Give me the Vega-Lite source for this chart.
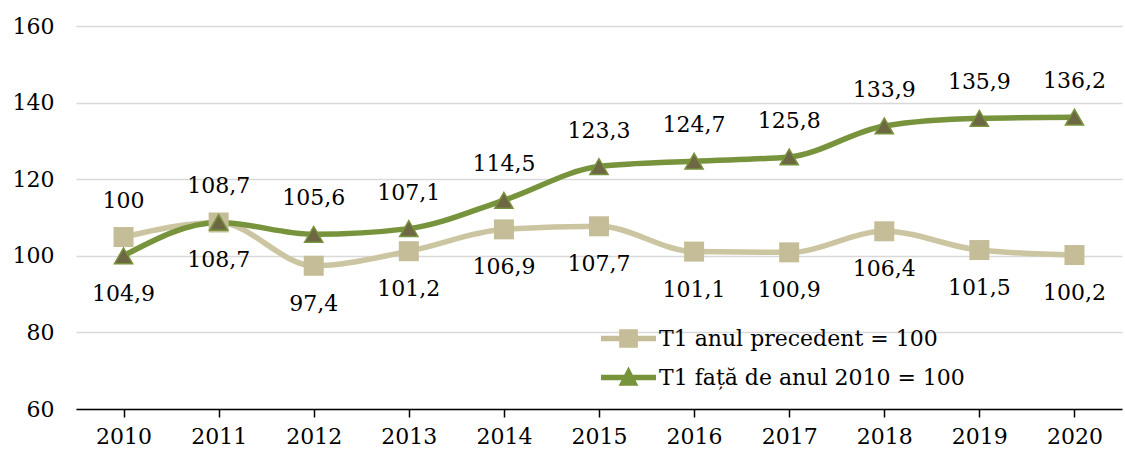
{
  "$schema": "https://vega.github.io/schema/vega-lite/v6.json",
  "width": 1046,
  "height": 383,
  "autosize": {"type": "none"},
  "padding": {"left": 76, "top": 26, "right": 3, "bottom": 46},
  "background": "white",
  "config": {
    "view": {"stroke": null},
    "font": "DejaVu Serif",
    "locale": {"number": {"decimal": ",", "thousands": ".", "grouping": [3], "currency": ["", " lei"]}},
    "axis": {"labelFont": "DejaVu Serif", "labelFontSize": 22, "labelColor": "#000000", "title": null}
  },
  "data": {
    "values": [
      {"year": "2010", "a": 104.9, "b": 100.0},
      {"year": "2011", "a": 108.7, "b": 108.7},
      {"year": "2012", "a": 97.4, "b": 105.6},
      {"year": "2013", "a": 101.2, "b": 107.1},
      {"year": "2014", "a": 106.9, "b": 114.5},
      {"year": "2015", "a": 107.7, "b": 123.3},
      {"year": "2016", "a": 101.1, "b": 124.7},
      {"year": "2017", "a": 100.9, "b": 125.8},
      {"year": "2018", "a": 106.4, "b": 133.9},
      {"year": "2019", "a": 101.5, "b": 135.9},
      {"year": "2020", "a": 100.2, "b": 136.2}
    ]
  },
  "transform": [
    {"calculate": "max(datum.a, datum.b)", "as": "hi"},
    {"calculate": "min(datum.a, datum.b)", "as": "lo"}
  ],
  "encoding": {
    "x": {
      "field": "year", "type": "ordinal",
      "scale": {"paddingInner": 0, "paddingOuter": 0},
      "axis": {
        "labelAngle": 0, "domainColor": "#000000", "domainWidth": 1.5,
        "tickColor": "#000000", "tickWidth": 1.5, "tickSize": 8, "bandPosition": 0,
        "labelPadding": 9, "grid": false
      }
    }
  },
  "layer": [
    {
      "transform": [{"fold": ["a", "b"], "as": ["series", "value"]}],
      "mark": {"type": "line", "interpolate": "monotone", "strokeWidth": 5.5, "strokeCap": "round"},
      "encoding": {
        "y": {
          "field": "value", "type": "quantitative",
          "scale": {"domain": [60, 160], "nice": false, "zero": false},
          "axis": {
            "values": [60, 80, 100, 120, 140, 160], "domain": false, "ticks": false,
            "gridColor": "#D9D9D9", "gridWidth": 1.5, "labelPadding": 22
          }
        },
        "color": {
          "field": "series", "type": "nominal",
          "scale": {"domain": ["a", "b"], "range": ["#CCC5A2", "#77933C"]},
          "legend": {
            "title": null, "orient": "none", "legendX": 525, "legendY": 285,
            "labelExpr": "datum.label == 'a' ? 'T1 anul precedent = 100' : 'T1 fa\u021b\u0103 de anul 2010 = 100'",
            "labelFont": "DejaVu Serif", "labelFontSize": 22, "labelColor": "#000000", "labelLimit": 0,
            "symbolSize": 3025, "labelOffset": 3, "rowPadding": -16,
            "encode": {
              "symbols": {
                "update": {
                  "shape": {"signal": "datum.value == 'a' ? 'M-1,-0.1 L1,-0.1 L1,0.1 L-1,0.1 Z M-0.34,-0.34 L0.34,-0.34 L0.34,0.34 L-0.34,0.34 Z' : 'M-1,-0.1 L1,-0.1 L1,0.1 L-1,0.1 Z M0,-0.4 L0.36,0.3 L-0.36,0.3 Z'"},
                  "fill": {"signal": "datum.value == 'a' ? '#C4BD97' : '#77933C'"},
                  "stroke": {"signal": "datum.value == 'a' ? '#C4BD97' : '#77933C'"},
                  "strokeWidth": {"value": 0},
                  "opacity": {"value": 1}
                }
              }
            }
          }
        }
      }
    },
    {
      "mark": {"type": "point", "shape": "square", "filled": true, "size": 400, "color": "#C4BD97", "opacity": 1},
      "encoding": {"y": {"field": "a", "type": "quantitative"}}
    },
    {
      "mark": {"type": "point", "shape": "triangle-up", "filled": true, "size": 330, "fill": "#6E6743", "stroke": "#77933C", "strokeWidth": 1.5, "opacity": 1},
      "encoding": {"y": {"field": "b", "type": "quantitative"}}
    },
    {
      "mark": {"type": "text", "font": "DejaVu Serif", "fontSize": 22, "color": "#000000", "dy": -36},
      "encoding": {
        "y": {"field": "hi", "type": "quantitative"},
        "text": {"field": "b", "type": "quantitative", "format": ".1~f"}
      }
    },
    {
      "mark": {"type": "text", "font": "DejaVu Serif", "fontSize": 22, "color": "#000000", "dy": 38},
      "encoding": {
        "y": {"field": "lo", "type": "quantitative"},
        "text": {"field": "a", "type": "quantitative", "format": ".1~f"}
      }
    }
  ]
}
